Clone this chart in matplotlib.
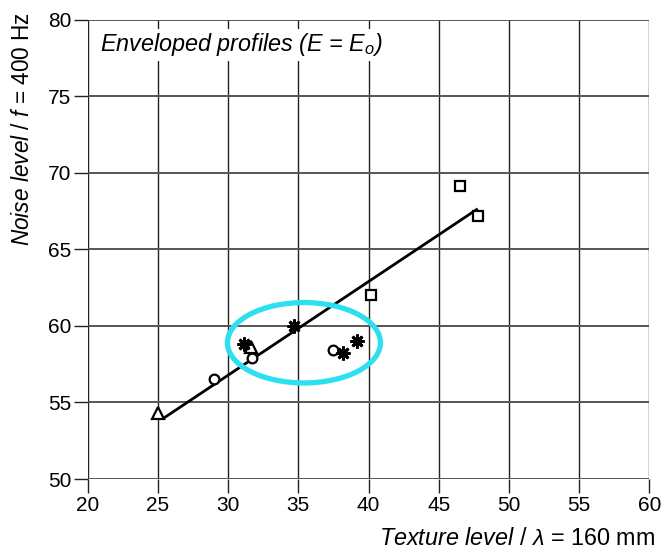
import matplotlib
matplotlib.use("Agg")
import matplotlib.pyplot as plt
from matplotlib.patches import Ellipse

plt.rcParams['font.family'] = ['Liberation Sans', 'DejaVu Sans']
plt.rcParams['mathtext.fontset'] = 'custom'
plt.rcParams['mathtext.rm'] = 'Liberation Sans'
plt.rcParams['mathtext.it'] = 'Liberation Sans:italic'

# Data
tri_x = [25.0, 31.6]
tri_y = [54.3, 58.6]
circ_x = [29.0, 31.7, 37.5]
circ_y = [56.5, 57.9, 58.4]
ast_x = [31.1, 34.7, 38.2, 39.2]
ast_y = [58.85, 60.0, 58.25, 59.0]
sq_x = [40.2, 46.5, 47.8]
sq_y = [62.0, 69.15, 67.15]
fit_x = [25.4, 47.7]
fit_y = [53.97, 67.6]

xticks = [20, 25, 30, 35, 40, 45, 50, 55, 60]
yticks = [50, 55, 60, 65, 70, 75, 80]

fig = plt.figure(figsize=(6.65, 5.53), dpi=100)
ax = fig.add_axes([0.1319, 0.1338, 0.8445, 0.8306])
ax.set_xlim(20, 60)
ax.set_ylim(50, 80)
ax.set_xticks(xticks)
ax.set_yticks(yticks)

for x in xticks:
    ax.axvline(x, color='#222222', lw=1.0, zorder=1)
for y in yticks:
    ax.axhline(y, color='#555555', lw=1.4, zorder=1)

for s in ax.spines.values():
    s.set_visible(False)

ax.tick_params(axis='both', direction='out', length=10, width=1.0,
               color='#222222', labelsize=15, pad=2)

ax.plot(fit_x, fit_y, color='black', lw=2.0, zorder=3)

mk = dict(linestyle='none', markerfacecolor='white', markeredgecolor='black',
          markeredgewidth=1.6, zorder=4)
ax.plot(tri_x, tri_y, marker='^', markersize=8, **mk)
ax.plot(circ_x, circ_y, marker='o', markersize=7, **mk)
ax.plot(sq_x, sq_y, marker='s', markersize=7, **mk)
ax.plot(ast_x, ast_y, linestyle='none', marker=(8, 2, 0), markersize=10,
        markeredgecolor='black', markeredgewidth=2.0, zorder=5)

ell = Ellipse((35.4, 58.9), 10.9, 5.25, fill=False, edgecolor='#2ee0ef',
              lw=3.8, zorder=6)
ax.add_patch(ell)

ax.text(20.9, 78.35, 'Enveloped profiles (E = E$_o$)', fontsize=16.8,
        style='italic', ha='left', va='center', zorder=7,
        bbox=dict(facecolor='white', edgecolor='none', pad=1.5))

fig.text(0.034, 0.978, r'$\mathit{Noise\ level\ /\ f}$ = 400 Hz', fontsize=16.3,
         rotation=90, ha='center', va='top')
fig.text(0.985, 0.006, r'$\mathit{Texture\ level\ /\ \lambda}$ = 160 mm',
         fontsize=16.8, ha='right', va='bottom')

fig.savefig('out.png', dpi=100)
